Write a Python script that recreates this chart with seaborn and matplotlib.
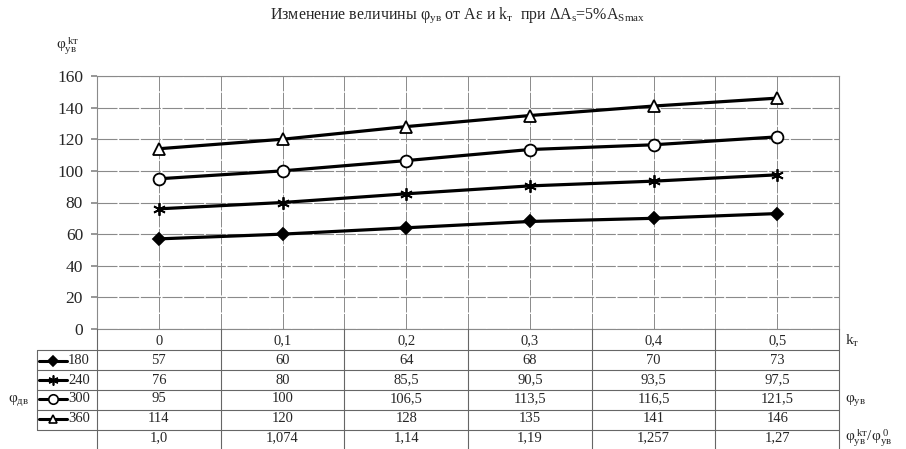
import numpy as np
import pandas as pd
import seaborn as sns
import matplotlib.pyplot as plt
from matplotlib.lines import Line2D
from matplotlib.transforms import blended_transform_factory

# data
k_t = ['0', '0,1', '0,2', '0,3', '0,4', '0,5']
phi_dv = ['180', '240', '300', '360']
phi_180 = [57, 60, 64, 68, 70, 73]
phi_240 = [76, 80, 85.5, 90.5, 93.5, 97.5]
phi_300 = [95, 100, 106.5, 113.5, 116.5, 121.5]
phi_360 = [114, 120, 128, 135, 141, 146]
ratio_labels = ['1,0', '1,074', '1,14', '1,19', '1,257', '1,27']
y_ticks = [0, 20, 40, 60, 80, 100, 120, 140, 160]

series = [phi_180, phi_240, phi_300, phi_360]
df = pd.DataFrame({
    'k': np.tile(np.arange(len(k_t)), len(phi_dv)),
    'phi': np.concatenate(series),
    'dv': np.repeat(phi_dv, len(k_t)),
})

sns.set_theme(style='white')
plt.rcParams['font.family'] = ['Liberation Serif', 'DejaVu Sans']
plt.rcParams['mathtext.fontset'] = 'custom'
plt.rcParams['mathtext.rm'] = 'Liberation Serif'
plt.rcParams['mathtext.it'] = 'Liberation Serif:italic'

W, H = 906, 449
def fx(p):
    return p / W
def fy(p):
    return 1 - p / H

fig = plt.figure(figsize=(9.06, 4.49), dpi=100)
ax = fig.add_axes([fx(97), fy(329), fx(839) - fx(97), fy(76) - fy(329)])

markers = {'180': 'D', '240': (6, 2, 0), '300': 'o', '360': '^'}
faces = {'180': 'black', '240': 'black', '300': 'white', '360': 'white'}
sizes = {'180': 6, '240': 9, '300': 8.5, '360': 8}

for dv in phi_dv:
    sns.lineplot(data=df[df['dv'] == dv], x='k', y='phi', ax=ax, color='black',
                 lw=2.3, marker=markers[dv], ms=sizes[dv], mfc=faces[dv],
                 mec='black', mew=1.3, zorder=3)

grid_col = '#8a8a8a'
ax.set_xlim(-0.5, len(k_t) - 0.5)
ax.set_ylim(0, 160)
ax.set_yticks(y_ticks)
ax.set_xticks(range(len(k_t)), k_t)
ax.set_xticks(np.arange(-0.5, len(k_t), 1), minor=True)
ax.grid(True, which='both', axis='x', color=grid_col, lw=0.7, ls=(0, (16, 1.5)))
ax.grid(True, which='major', axis='y', color=grid_col, lw=0.8, ls=(0, (18, 1.5)))
ax.tick_params(axis='x', which='both', length=0, pad=4, labelsize=10.5)
ax.tick_params(axis='y', length=4, color=grid_col, pad=6, labelsize=12.5, left=True)
ax.set_xlabel('')
ax.set_ylabel('')
for s in ax.spines.values():
    s.set_color(grid_col)
    s.set_linewidth(0.8)

# data table under the chart
tr = blended_transform_factory(ax.transData, fig.transFigure)
line_kw = dict(color='#666666', lw=0.8)
for b in np.arange(-0.5, len(k_t), 1):
    fig.add_artist(Line2D([b, b], [fy(329), fy(449)], transform=tr, **line_kw))
for yy in [350, 370, 390, 410, 430]:
    fig.add_artist(Line2D([fx(37), fx(839)], [fy(yy)] * 2, transform=fig.transFigure, **line_kw))
fig.add_artist(Line2D([fx(37)] * 2, [fy(350), fy(430)], transform=fig.transFigure, **line_kw))

row_centers = [361, 380, 399, 419]
for dv, vals, yc in zip(phi_dv, series, row_centers):
    for i, v in enumerate(vals):
        fig.text(i, fy(yc), f'{v:g}'.replace('.', ','), transform=tr,
                 ha='center', va='center', fontsize=10.5)
    fig.add_artist(Line2D([fx(39), fx(67)], [fy(yc)] * 2, transform=fig.transFigure,
                          color='black', lw=2.2))
    fig.add_artist(Line2D([fx(53)], [fy(yc)], transform=fig.transFigure, color='black',
                          marker=markers[dv], ms=sizes[dv] * 0.8, mfc=faces[dv],
                          mec='black', mew=1.2))
    fig.text(fx(68), fy(yc), dv, ha='left', va='center', fontsize=10.5)

for i, lab in enumerate(ratio_labels):
    fig.text(i, fy(438), lab, transform=tr, ha='center', va='center', fontsize=10.5)

# labels
fig.text(fx(458), fy(15), 'Изменение величины φ$_{\\mathrm{ув}}$ от Aε и k$_{\\mathrm{т}}$  при '
         'ΔA$_{\\mathrm{s}}$=5%A$_{\\mathrm{Smax}}$', ha='center', va='center', fontsize=11.5)
fig.text(fx(56), fy(46), 'φ$_{\\mathrm{ув}}^{\\ \\mathrm{kт}}$', ha='left', va='center', fontsize=11)
fig.text(fx(8), fy(400), 'φ$_{\\mathrm{дв}}$', ha='left', va='center', fontsize=11)
fig.text(fx(845), fy(341), 'k$_{\\mathrm{т}}$', ha='left', va='center', fontsize=11)
fig.text(fx(845), fy(400), 'φ$_{\\mathrm{ув}}$', ha='left', va='center', fontsize=11)
fig.text(fx(845), fy(438), 'φ$_{\\mathrm{ув}}^{\\ \\mathrm{kт}}$/φ$_{\\mathrm{ув}}^{\\ 0}$',
         ha='left', va='center', fontsize=11)

fig.savefig('out.png', dpi=100)
